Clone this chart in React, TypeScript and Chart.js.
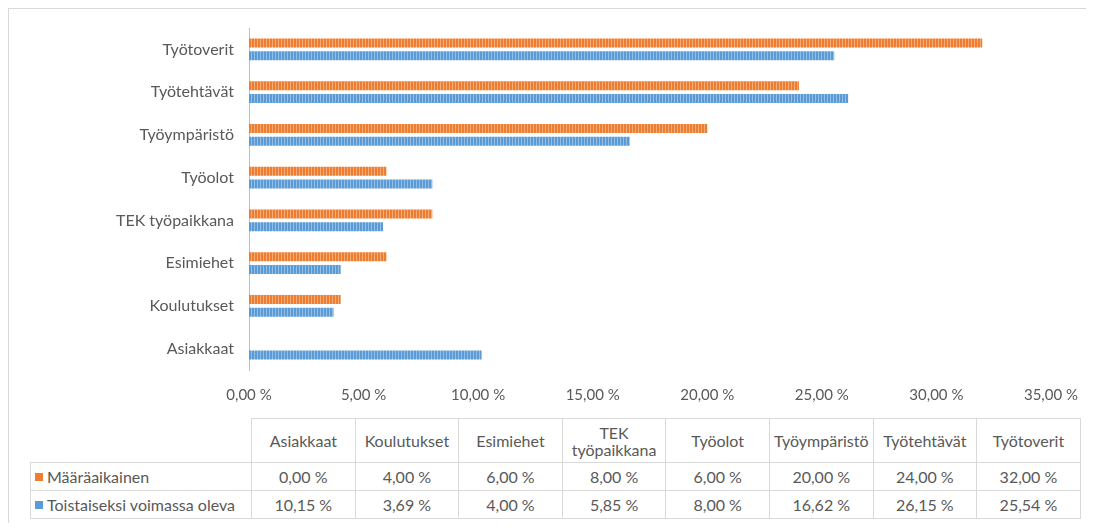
import React, { useEffect, useRef } from "react";
import { Chart, registerables } from "chart.js";

Chart.register(...registerables);

// Categories as drawn on the chart (top to bottom)
const categories = [
  "Työtoverit",
  "Työtehtävät",
  "Työympäristö",
  "Työolot",
  "TEK työpaikkana",
  "Esimiehet",
  "Koulutukset",
  "Asiakkaat",
];
const seriesNames = ["Määräaikainen", "Toistaiseksi voimassa oleva"];
const maaraaikainen = [32.0, 24.0, 20.0, 6.0, 8.0, 6.0, 4.0, 0.0];
const toistaiseksi = [25.54, 26.15, 16.62, 8.0, 5.85, 4.0, 3.69, 10.15];
const xMin = 0;
const xMax = 35;
const xStep = 5;

const ORANGE = "#ED7D31";
const ORANGE_LIGHT = "#F6AC78";
const BLUE = "#5B9BD5";
const BLUE_LIGHT = "#93BEE6";
const TEXT = "#595959";
const FONT = "Lato, 'Open Sans', sans-serif";

const fmt = (v: number) => v.toFixed(2).replace(".", ",") + " %";

function makePattern(base: string, light: string): CanvasPattern | string {
  const c = document.createElement("canvas");
  c.width = 3;
  c.height = 2;
  const ctx = c.getContext("2d");
  if (!ctx) return base;
  ctx.fillStyle = base;
  ctx.fillRect(0, 0, 3, 2);
  ctx.fillStyle = light;
  ctx.fillRect(2, 0, 1, 2);
  const p = ctx.createPattern(c, "repeat");
  return p || base;
}

export default function App() {
  const ref = useRef<HTMLCanvasElement | null>(null);

  useEffect(() => {
    if (!ref.current) return;
    const chart = new Chart(ref.current, {
      type: "bar",
      data: {
        labels: categories,
        datasets: [
          {
            label: seriesNames[0],
            data: maaraaikainen,
            backgroundColor: makePattern(ORANGE, ORANGE_LIGHT) as any,
            borderWidth: 0,
            categoryPercentage: 0.6,
            barPercentage: 0.7,
          },
          {
            label: seriesNames[1],
            data: toistaiseksi,
            backgroundColor: makePattern(BLUE, BLUE_LIGHT) as any,
            borderWidth: 0,
            categoryPercentage: 0.6,
            barPercentage: 0.7,
          },
        ],
      },
      options: {
        indexAxis: "y",
        animation: false,
        responsive: false,
        maintainAspectRatio: false,
        layout: { padding: { top: 19, right: 43, bottom: 0, left: 0 } },
        plugins: {
          legend: { display: false },
          tooltip: { enabled: false },
        },
        scales: {
          x: {
            min: xMin,
            max: xMax,
            grid: { display: false, drawTicks: false, tickLength: 0 },
            border: { display: false },
            ticks: {
              stepSize: xStep,
              color: TEXT,
              font: { family: FONT, size: 15 },
              padding: 16,
              callback: (v: any) => fmt(Number(v)),
            },
            afterFit: (scale: any) => {
              scale.height = 38;
            },
          },
          y: {
            grid: { display: false, drawTicks: false, tickLength: 0 },
            border: { display: true, color: "#BFBFBF", width: 1 },
            ticks: {
              color: TEXT,
              font: { family: FONT, size: 16 },
              padding: 15,
            },
            afterFit: (scale: any) => {
              scale.width = 240;
              scale.paddingTop = 0;
              scale.paddingBottom = 0;
            },
          },
        },
      },
    });
    return () => chart.destroy();
  }, []);

  // table columns: categories bottom-to-top
  const order = [...categories.keys()].reverse();
  const colW = 103.6;
  const headW = 221;
  const cellBorder = "1px solid #D9D9D9";

  const headerLabel = (c: string) =>
    c === "TEK työpaikkana" ? (
      <>
        TEK
        <br />
        työpaikkana
      </>
    ) : (
      c
    );

  const rows = [
    { name: seriesNames[0], color: ORANGE, values: maaraaikainen },
    { name: seriesNames[1], color: BLUE, values: toistaiseksi },
  ];

  return (
    <div
      style={{
        position: "relative",
        width: 1086,
        height: 515,
        boxSizing: "border-box",
        borderTop: "1px solid #D9D9D9",
        borderLeft: "1px solid #D9D9D9",
        overflow: "hidden",
        background: "#fff",
        fontFamily: FONT,
        color: TEXT,
      }}
    >
      <canvas
        ref={ref}
        width={1085}
        height={399}
        style={{ position: "absolute", left: 0, top: 0, width: 1085, height: 399 }}
      />
      <table
        style={{
          position: "absolute",
          left: 21,
          top: 409,
          borderCollapse: "collapse",
          tableLayout: "fixed",
          width: headW + colW * 8,
          fontSize: 16,
          color: TEXT,
          fontFamily: FONT,
        }}
      >
        <colgroup>
          <col style={{ width: headW }} />
          {order.map((i) => (
            <col key={i} style={{ width: colW }} />
          ))}
        </colgroup>
        <tbody>
          <tr style={{ height: 44 }}>
            <td style={{ border: "none", padding: 0 }} />
            {order.map((i) => (
              <td
                key={i}
                style={{
                  border: cellBorder,
                  textAlign: "center",
                  verticalAlign: "middle",
                  padding: 0,
                  lineHeight: "17px",
                  whiteSpace: "nowrap",
                }}
              >
                {headerLabel(categories[i])}
              </td>
            ))}
          </tr>
          {rows.map((r) => (
            <tr key={r.name} style={{ height: 28 }}>
              <td
                style={{
                  border: cellBorder,
                  padding: "0 0 0 4px",
                  whiteSpace: "nowrap",
                  verticalAlign: "middle",
                  lineHeight: "18px",
                }}
              >
                <span
                  style={{
                    display: "inline-block",
                    width: 8,
                    height: 8,
                    background: r.color,
                    marginRight: 4,
                    verticalAlign: "middle",
                    position: "relative",
                    top: -1,
                  }}
                />
                {r.name}
              </td>
              {order.map((i) => (
                <td
                  key={i}
                  style={{
                    border: cellBorder,
                    textAlign: "center",
                    verticalAlign: "middle",
                    padding: 0,
                    lineHeight: "18px",
                  }}
                >
                  {fmt(r.values[i])}
                </td>
              ))}
            </tr>
          ))}
        </tbody>
      </table>
    </div>
  );
}
